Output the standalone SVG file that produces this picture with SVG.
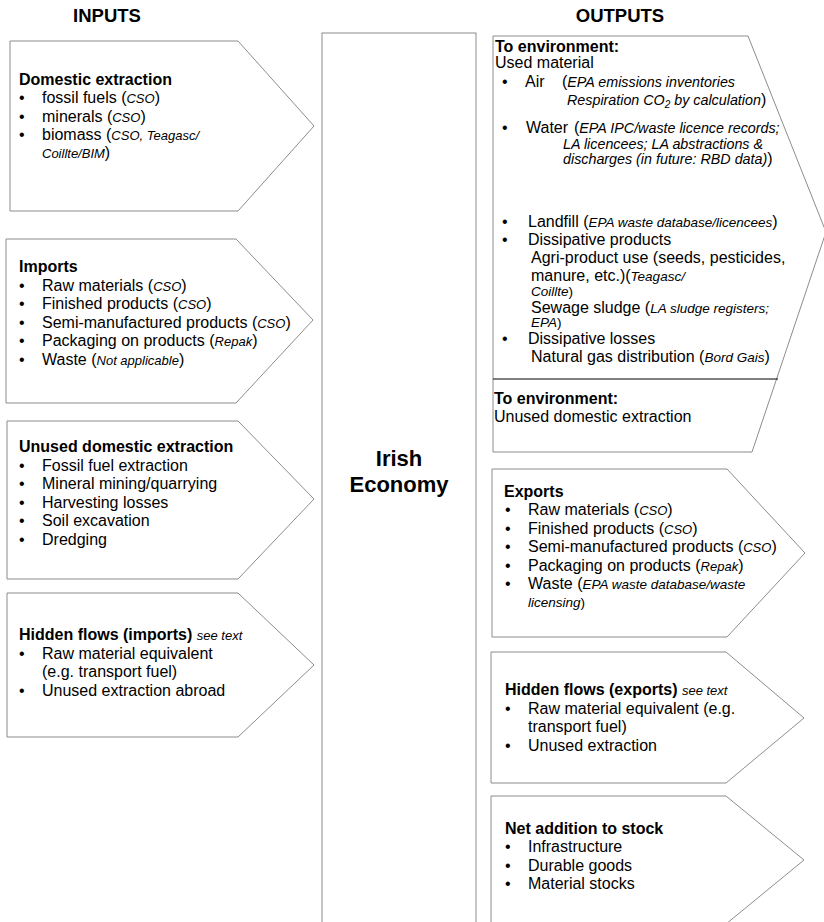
<svg xmlns="http://www.w3.org/2000/svg" width="824" height="922" viewBox="0 0 824 922">
<style>
text{font-family:"Liberation Sans",Arial,sans-serif;font-size:16px;fill:#000}
.h{font-weight:bold}
.t{font-weight:bold;font-size:18.5px;text-anchor:middle}
.c{font-weight:bold;font-size:22px;text-anchor:middle}
.i{font-style:italic;font-size:13px}
.j{font-style:italic;font-size:13.5px}
.k{font-style:italic;font-size:14.3px}
.shape{fill:#fff;stroke:#8c8c8c;stroke-width:1}
</style>
<rect width="824" height="922" fill="#fff"/>
<text class="t" x="107" y="22">INPUTS</text>
<text class="t" x="620" y="22">OUTPUTS</text>

<g id="domestic-extraction">
<polygon class="shape" points="10,41 238,41 314,126 238,211 10,211"/>
<text class="h" x="19" y="85">Domestic extraction</text>
<text x="19" y="103">•</text><text x="42" y="103">fossil fuels (<tspan class="i">CSO</tspan>)</text>
<text x="19" y="121.5">•</text><text x="42" y="121.5">minerals (<tspan class="i">CSO</tspan>)</text>
<text x="19" y="140">•</text><text x="42" y="140">biomass (<tspan class="i">CSO, Teagasc/</tspan></text>
<text x="42" y="158"><tspan class="i">Coillte/BIM</tspan>)</text>
</g>

<g id="imports">
<polygon class="shape" points="6,239 236,239 313,320 236,403 6,403"/>
<text class="h" x="19" y="272">Imports</text>
<text x="19" y="290.5">•</text><text x="42" y="290.5">Raw materials (<tspan class="i">CSO</tspan>)</text>
<text x="19" y="309">•</text><text x="42" y="309">Finished products (<tspan class="i">CSO</tspan>)</text>
<text x="19" y="327.5">•</text><text x="42" y="327.5">Semi-manufactured products (<tspan class="i">CSO</tspan>)</text>
<text x="19" y="346">•</text><text x="42" y="346">Packaging on products (<tspan class="i">Repak</tspan>)</text>
<text x="19" y="364.5">•</text><text x="42" y="364.5">Waste (<tspan class="i">Not applicable</tspan>)</text>
</g>

<g id="unused-domestic-extraction">
<polygon class="shape" points="7,421 238,421 314,499 238,579 7,579"/>
<text class="h" x="19" y="452">Unused domestic extraction</text>
<text x="19" y="470.5">•</text><text x="42" y="470.5">Fossil fuel extraction</text>
<text x="19" y="489">•</text><text x="42" y="489">Mineral mining/quarrying</text>
<text x="19" y="507.5">•</text><text x="42" y="507.5">Harvesting losses</text>
<text x="19" y="526">•</text><text x="42" y="526">Soil excavation</text>
<text x="19" y="544.5">•</text><text x="42" y="544.5">Dredging</text>
</g>

<g id="hidden-flows-imports">
<polygon class="shape" points="7,593 238,593 314,665 238,737 7,737"/>
<text x="19" y="640"><tspan class="h">Hidden flows (imports)</tspan> <tspan class="i">see text</tspan></text>
<text x="19" y="658.5">•</text><text x="42" y="658.5">Raw material equivalent</text>
<text x="42" y="677">(e.g. transport fuel)</text>
<text x="19" y="695.5">•</text><text x="42" y="695.5">Unused extraction abroad</text>
</g>

<g id="irish-economy">
<rect class="shape" x="322" y="33" width="154" height="900"/>
<text class="c" x="399" y="466">Irish</text>
<text class="c" x="399" y="492">Economy</text>
</g>

<g id="to-environment">
<polygon class="shape" points="493,36 748,36 826,232 752,452 493,452"/>
<text class="h" x="495" y="52">To environment:</text>
<text x="495" y="68">Used material</text>
<text x="502" y="87">•</text><text x="525" y="87">Air</text><text x="562" y="87">(<tspan class="k">EPA emissions inventories</tspan></text>
<text x="567" y="105" class="k">Respiration CO<tspan font-size="10" dy="3">2</tspan><tspan dy="-3"> by calculation</tspan><tspan font-style="normal" font-size="16">)</tspan></text>
<text x="502" y="133">•</text><text x="526" y="133">Water</text><text x="574" y="133">(<tspan class="k">EPA IPC/waste licence records;</tspan></text>
<text x="563" y="148.5" class="k">LA licencees; LA abstractions &amp;</text>
<text x="563" y="164" class="k">discharges (in future: RBD data)<tspan font-style="normal" font-size="16">)</tspan></text>
<text x="502" y="226.5">•</text><text x="528" y="226.5">Landfill  (<tspan class="j">EPA waste database/licencees</tspan>)</text>
<text x="502" y="245">•</text><text x="528" y="245">Dissipative products</text>
<text x="531" y="263">Agri-product use (seeds, pesticides,</text>
<text x="531" y="281">manure, etc.)(<tspan class="j">Teagasc/</tspan></text>
<text x="531" y="295.5" class="j">Coillte<tspan font-style="normal">)</tspan></text>
<text x="531" y="312.5">Sewage sludge (<tspan class="j">LA sludge registers;</tspan></text>
<text x="531" y="327" class="j">EPA<tspan font-style="normal">)</tspan></text>
<text x="502" y="344">•</text><text x="528" y="344">Dissipative losses</text>
<text x="531" y="362">Natural gas distribution (<tspan class="j">Bord Gais</tspan>)</text>
<line x1="493" y1="379" x2="778" y2="379" stroke="#000" stroke-width="1"/>
<text class="h" x="494" y="404">To environment:</text>
<text x="494" y="422">Unused domestic extraction</text>
</g>

<g id="exports">
<polygon class="shape" points="492,469 727,469 805,553 727,637 492,637"/>
<text class="h" x="504" y="497">Exports</text>
<text x="505" y="515">•</text><text x="528" y="515">Raw materials (<tspan class="i">CSO</tspan>)</text>
<text x="505" y="533.5">•</text><text x="528" y="533.5">Finished products (<tspan class="i">CSO</tspan>)</text>
<text x="505" y="552">•</text><text x="528" y="552">Semi-manufactured products (<tspan class="i">CSO</tspan>)</text>
<text x="505" y="570.5">•</text><text x="528" y="570.5">Packaging on products (<tspan class="i">Repak</tspan>)</text>
<text x="505" y="589">•</text><text x="528" y="589">Waste (<tspan class="j">EPA waste database/waste</tspan></text>
<text x="528" y="606.5" class="j">licensing<tspan font-style="normal">)</tspan></text>
</g>

<g id="hidden-flows-exports">
<polygon class="shape" points="491,652 726,652 804,718 726,783 491,783"/>
<text x="505" y="695"><tspan class="h">Hidden flows (exports)</tspan> <tspan class="i">see text</tspan></text>
<text x="505" y="714">•</text><text x="528" y="714">Raw material equivalent (e.g.</text>
<text x="528" y="732">transport fuel)</text>
<text x="505" y="751">•</text><text x="528" y="751">Unused extraction</text>
</g>

<g id="net-addition-to-stock">
<polygon class="shape" points="491,796 726,796 804,860 726,924 491,924"/>
<text class="h" x="505" y="834">Net addition to stock</text>
<text x="505" y="852">•</text><text x="528" y="852">Infrastructure</text>
<text x="505" y="870.5">•</text><text x="528" y="870.5">Durable goods</text>
<text x="505" y="889">•</text><text x="528" y="889">Material stocks</text>
</g>

<g id="connectors"></g>
</svg>
